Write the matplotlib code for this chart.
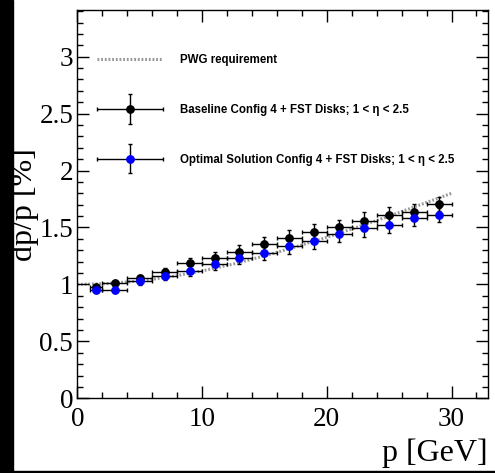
import matplotlib
matplotlib.use("Agg")
import matplotlib.pyplot as plt
from matplotlib.patches import Rectangle
from matplotlib.legend_handler import HandlerErrorbar
from matplotlib.ticker import MultipleLocator, FuncFormatter

# ---- data ----
p_centers = [1.5, 3, 5, 7, 9, 11, 13, 15, 17, 19, 21, 23, 25, 27, 29]
p_halfwidth = [0.5, 1, 1, 1, 1, 1, 1, 1, 1, 1, 1, 1, 1, 1, 1]
baseline = [0.976, 1.011, 1.055, 1.113, 1.184, 1.231, 1.289, 1.354, 1.406,
            1.462, 1.500, 1.559, 1.609, 1.638, 1.705]
baseline_err = [0.015, 0.02, 0.03, 0.035, 0.045, 0.05, 0.055, 0.06, 0.07,
                0.07, 0.07, 0.075, 0.07, 0.07, 0.06]
optimal = [0.949, 0.955, 1.026, 1.078, 1.116, 1.178, 1.236, 1.275, 1.339,
           1.377, 1.442, 1.494, 1.518, 1.582, 1.611]
optimal_err = [0.015, 0.02, 0.03, 0.035, 0.045, 0.05, 0.055, 0.06, 0.07,
               0.07, 0.07, 0.075, 0.07, 0.07, 0.06]
pwg_p = [0, 2.5, 5, 7.5, 10, 12.5, 15, 17.5, 20, 22.5, 25, 27.5, 30]
pwg_res = [1.0, 1.008, 1.031, 1.068, 1.118, 1.179, 1.25, 1.33, 1.414,
           1.505, 1.60, 1.70, 1.80]

labels = ["PWG requirement",
          "Baseline Config 4 + FST Disks; 1 < η < 2.5",
          "Optimal Solution Config 4 + FST Disks; 1 < η < 2.5"]

fig = plt.figure(figsize=(4.95, 4.73), dpi=100)
fig.patch.set_facecolor("white")
# black frame strips of the screenshot
fig.patches.append(Rectangle((0, 0), 12.7 / 495, 1, transform=fig.transFigure,
                             color="black", zorder=-1))
fig.patches.append(Rectangle((0, 0), 1, 2.5 / 473, transform=fig.transFigure,
                             color="black", zorder=-1))

ax = fig.add_axes([77.3 / 495, 1 - 398.3 / 473, (487.7 - 77.3) / 495,
                   (398.3 - 10) / 473])

pwg, = ax.plot(pwg_p, pwg_res, color="#999999", lw=2.2,
               linestyle=(0, (0.6, 0.6)), zorder=1)
eb1 = ax.errorbar(p_centers, baseline, xerr=p_halfwidth, yerr=baseline_err,
                  fmt="o", color="black", ms=5.3, ecolor="black", elinewidth=1,
                  capsize=1.5, capthick=1, zorder=3)
eb2 = ax.errorbar(p_centers, optimal, xerr=p_halfwidth, yerr=optimal_err,
                  fmt="o", color="#0000ff", ms=5.3, ecolor="black",
                  elinewidth=1, capsize=1.5, capthick=1, zorder=4)

ax.set_xlim(0, 32.9)
ax.set_ylim(0, 3.41)
ax.xaxis.set_major_locator(MultipleLocator(10))
ax.xaxis.set_minor_locator(MultipleLocator(2))
ax.yaxis.set_major_locator(MultipleLocator(0.5))
ax.yaxis.set_minor_locator(MultipleLocator(0.1))
ax.tick_params(which="both", direction="in", top=True, right=True, width=1)
ax.tick_params(which="major", length=8.5)
ax.tick_params(which="minor", length=4.3)
ax.tick_params(axis="x", which="major", pad=6)
ax.tick_params(axis="y", which="major", pad=3)
for s in ax.spines.values():
    s.set_linewidth(1)

ax.xaxis.set_major_formatter(FuncFormatter(lambda v, pos: f"{v:g}"))
ax.yaxis.set_major_formatter(FuncFormatter(lambda v, pos: f"{v:g}"))
for lab in ax.get_xticklabels() + ax.get_yticklabels():
    lab.set_fontfamily("Liberation Serif")
    lab.set_fontsize(19.5)

ax.set_xlabel("p [GeV]", fontfamily="Liberation Serif", fontsize=23,
              ha="right")
ax.xaxis.set_label_coords(1.0, -0.103)
ax.set_ylabel("dp/p [%]", fontfamily="Liberation Serif", fontsize=23,
              va="bottom")
ax.yaxis.set_label_coords(-0.094, 0.5)

leg = ax.legend([pwg, eb1, eb2], labels, loc="upper left",
                bbox_to_anchor=(0.023, 0.913), frameon=False,
                prop={"family": "Liberation Sans", "weight": "bold",
                      "size": 8.3},
                handlelength=5.7, handletextpad=1.47, labelspacing=3.27,
                handler_map={type(eb1): HandlerErrorbar(xerr_size=2.85,
                                                        yerr_size=1.28)})

fig.savefig("out.png", dpi=100)
